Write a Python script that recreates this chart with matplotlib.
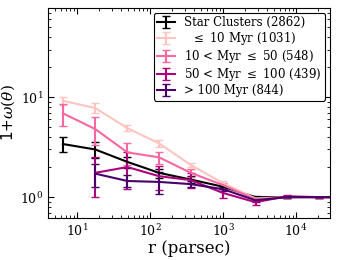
import matplotlib as mpl
import matplotlib.pyplot as plt
import numpy as np

mpl.use("Agg")

plt.rcParams["font.family"] = "DejaVu Serif"
plt.rcParams["mathtext.fontset"] = "dejavuserif"

# separation bins (parsec)
r = [6.4, 17.7, 49, 133, 360, 1000, 2780, 7500, 20500, 56000]

# black: all star clusters
all_y = [3.4, 3.0, 2.25, 1.75, 1.5, 1.27, 1.0, 1.0, 1.0, 1.0]
all_err = [0.6, 0.55, 0.3, 0.18, 0.12, 0.06, 0.03, 0.02, 0.01, 0.01]

young_y = [9.2, 7.8, 4.9, 3.45, 2.1, 1.38, 0.97, 1.0, 1.0, 1.0]
young_err = [0.9, 0.9, 0.35, 0.25, 0.12, 0.06, 0.03, 0.02, 0.01, 0.01]

mid_y = [6.9, 4.8, 2.8, 2.5, 1.75, 1.32, 0.95, 1.0, 1.0, 1.0]
mid_err = [1.7, 1.5, 0.7, 0.35, 0.15, 0.08, 0.04, 0.02, 0.01, 0.01]

old_r = r[1:]
old_y = [1.75, 2.0, 1.62, 1.48, 1.1, 0.89, 1.02, 1.0, 1.0]
old_err = [0.75, 0.8, 0.45, 0.25, 0.12, 0.05, 0.03, 0.01, 0.01]

oldest_y = [1.72, 1.45, 1.42, 1.35, 1.2, 0.93, 1.0, 1.0, 1.0]
oldest_err = [0.45, 0.2, 0.35, 0.1, 0.05, 0.03, 0.02, 0.01, 0.01]

series = [
    (r, all_y, all_err, "black", "Star Clusters (2862)"),
    (r, young_y, young_err, "#fcc5c0", r"  $\leq$ 10 Myr (1031)"),
    (r, mid_y, mid_err, "#f768a1", r"10 < Myr $\leq$ 50 (548)"),
    (old_r, old_y, old_err, "#ae017e", r"50 < Myr $\leq$ 100 (439)"),
    (old_r, oldest_y, oldest_err, "#49006a", "> 100 Myr (844)"),
]

fig = plt.figure(figsize=(3.38, 2.6), dpi=100)
ax = fig.add_axes([0.142, 0.162, 0.834, 0.807])

for x, y, e, c, lab in series:
    ax.errorbar(x, y, yerr=e, color=c, lw=1.5, capsize=3, elinewidth=1.5, label=lab)

ax.set_xscale("log")
ax.set_yscale("log")
ax.set_xlim(4, 29000)
ax.set_ylim(0.62, 78)
ax.tick_params(which="both", direction="in", top=True, right=True, labelsize=9)
ax.tick_params(which="major", length=4)
ax.tick_params(which="minor", length=2)

ax.set_xlabel("r (parsec)", fontsize=12, labelpad=1)
ax.set_ylabel(r"1+$\omega(\theta)$", fontsize=11, family="DejaVu Sans", labelpad=2)

leg = ax.legend(loc="upper right", fontsize=8.5, fancybox=True, edgecolor="black",
                framealpha=1, borderaxespad=0.4, borderpad=0.3, handlelength=1.5,
                handletextpad=0.8, labelspacing=0.08)
leg.get_frame().set_linewidth(0.8)

fig.savefig("out.png", dpi=100)
